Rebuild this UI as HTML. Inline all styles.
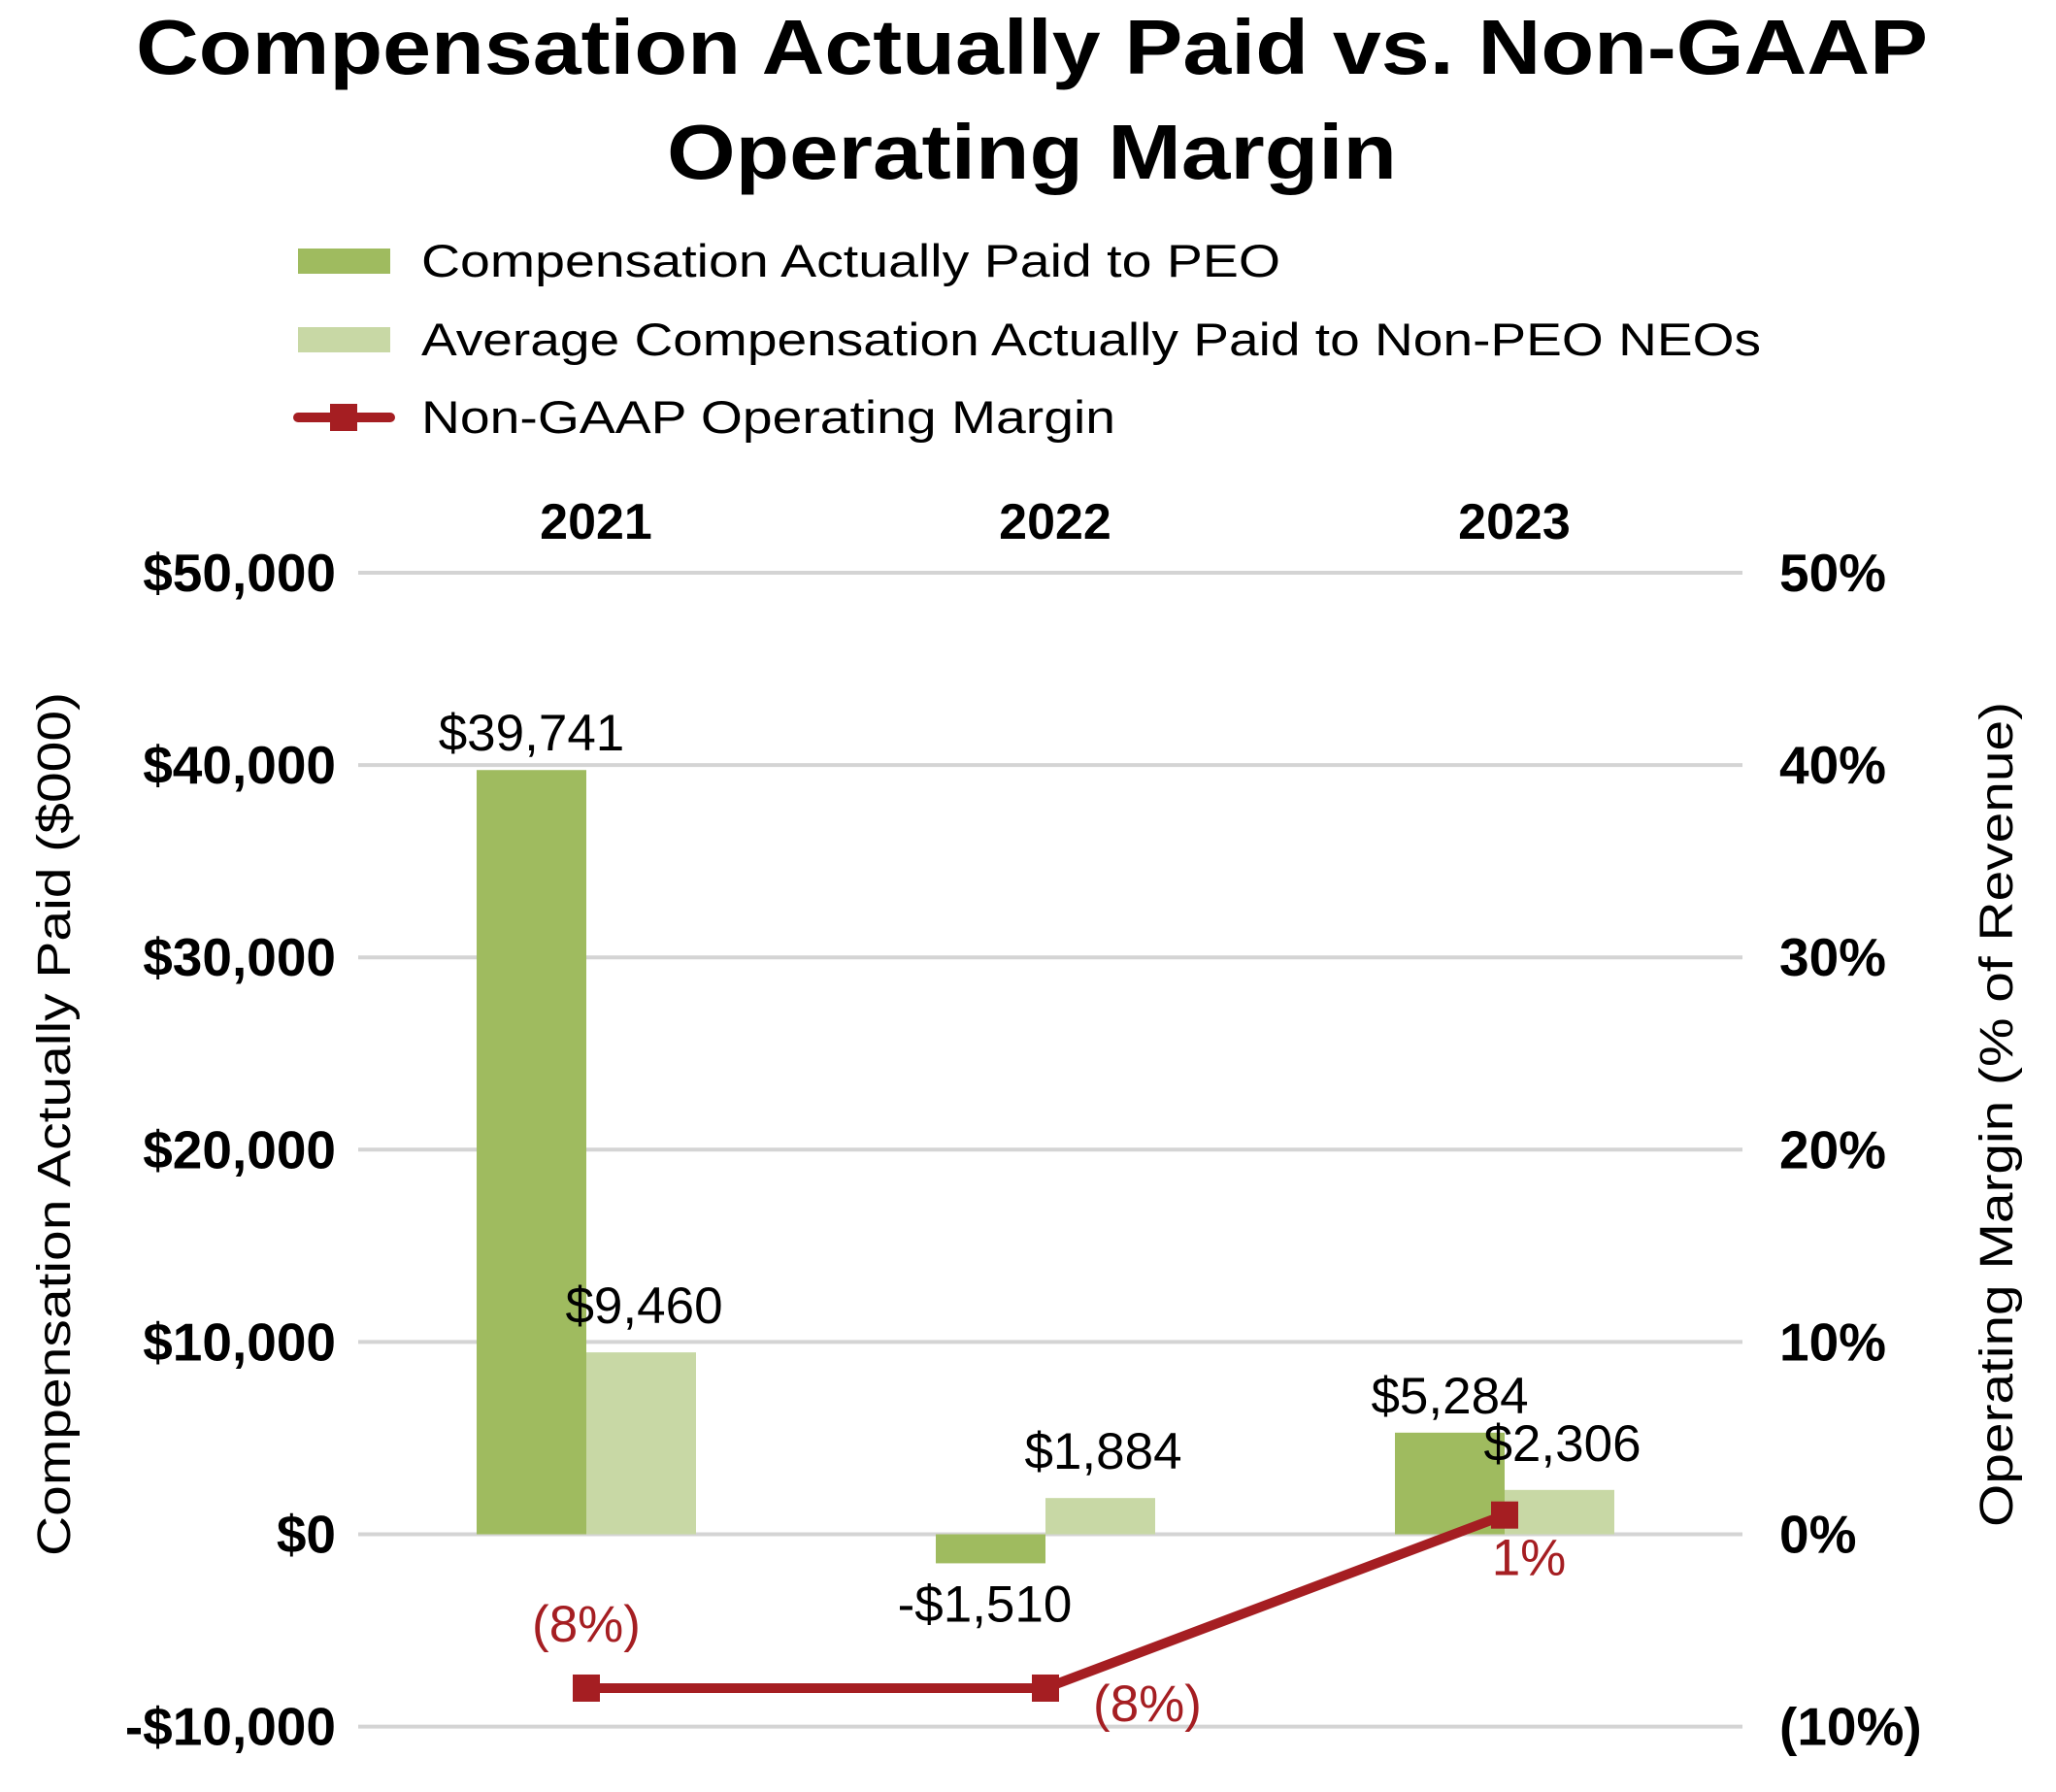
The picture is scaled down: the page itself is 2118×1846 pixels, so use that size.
<!DOCTYPE html>
<html><head><meta charset="utf-8"><style>
html,body{margin:0;padding:0;background:#fff}
svg{display:block;font-family:"Liberation Sans",Arial,sans-serif}
</style></head><body>
<svg id="chart" width="2118" height="1846" viewBox="0 0 2118 1846" xmlns="http://www.w3.org/2000/svg">
<g font-weight="bold" font-size="80" text-anchor="middle" fill="#000">
<text x="1063" y="76" textLength="1846" lengthAdjust="spacingAndGlyphs">Compensation Actually Paid vs. Non-GAAP</text>
<text x="1063" y="184" textLength="752" lengthAdjust="spacingAndGlyphs">Operating Margin</text>
</g>
<g font-size="47" fill="#000">
<rect x="307" y="256" width="95" height="26" fill="#9fbb5f"/>
<text x="434" y="285" textLength="885" lengthAdjust="spacingAndGlyphs">Compensation Actually Paid to PEO</text>
<rect x="307" y="337" width="95" height="26" fill="#c8d8a5"/>
<text x="434" y="366" textLength="1380" lengthAdjust="spacingAndGlyphs">Average Compensation Actually Paid to Non-PEO NEOs</text>
<line x1="307" y1="430" x2="402" y2="430" stroke="#a51e22" stroke-width="10" stroke-linecap="round"/>
<rect x="340" y="416" width="28" height="28" fill="#a51e22"/>
<text x="434" y="446" textLength="715" lengthAdjust="spacingAndGlyphs">Non-GAAP Operating Margin</text>
</g>
<g id="grid"></g>
<g id="bars"></g>
<g id="line"></g>
<g id="labels"></g>
<text transform="translate(72,1158) rotate(-90)" text-anchor="middle" font-size="48" fill="#000" textLength="890" lengthAdjust="spacingAndGlyphs">Compensation Actually Paid ($000)</text>
<text transform="translate(2073,1148) rotate(-90)" text-anchor="middle" font-size="48" fill="#000" textLength="850" lengthAdjust="spacingAndGlyphs">Operating Margin (% of Revenue)</text>
</svg>
<script>
const categories = ["2021", "2022", "2023"];
const peoValues = [39741, -1510, 5284];
const neoValues = [9460, 1884, 2306];
const marginValues = [-8, -8, 1];
const peoLabels = ["$39,741", "-$1,510", "$5,284"];
const neoLabels = ["$9,460", "$1,884", "$2,306"];
const marginLabels = ["(8%)", "(8%)", "1%"];
const leftTicks = [-10000, 0, 10000, 20000, 30000, 40000, 50000];
const leftTickLabels = ["-$10,000", "$0", "$10,000", "$20,000", "$30,000", "$40,000", "$50,000"];
const rightTickLabels = ["(10%)", "0%", "10%", "20%", "30%", "40%", "50%"];

const NS = "http://www.w3.org/2000/svg";
const plotL = 369, plotR = 1795, y0 = 1580.5, yTop = 590;
function yL(v){ return y0 - (v/50000)*(y0-yTop); }
function yR(p){ return y0 - (p/50)*(y0-yTop); }
function xC(i){ return 604 + i*473; }
const barW = 113;
function mk(tag, attrs, parent){ const e=document.createElementNS(NS,tag); for(const k in attrs) e.setAttribute(k,attrs[k]); parent.appendChild(e); return e; }
const grid=document.getElementById('grid'), bars=document.getElementById('bars'), line=document.getElementById('line'), labels=document.getElementById('labels');

leftTicks.forEach((t,i)=>{
  const y=yL(t);
  const g=mk('line',{x1:plotL,x2:plotR,y1:y,y2:y,stroke:'#d4d4d4','stroke-width':4},grid);
  
  
  const tl=mk('text',{x:346,y:y+19,'text-anchor':'end','font-size':55,'font-weight':'bold',fill:'#000'},grid);
  tl.textContent=leftTickLabels[i];
  
  
  const tr=mk('text',{x:1833,y:y+19,'font-size':55,'font-weight':'bold',fill:'#000'},grid);
  tr.textContent=rightTickLabels[i];
  
  
});
categories.forEach((c,i)=>{
  const t=mk('text',{x:xC(i)+10,y:555,'text-anchor':'middle','font-size':52,'font-weight':'bold',fill:'#000'},labels);
  t.textContent=c;
  
  
  const yp=yL(peoValues[i]);
  const b1=mk('rect',{x:xC(i)-barW,y:Math.min(yp,y0),width:barW,height:Math.abs(y0-yp),fill:'#9fbb5f'},bars);
  
  
  const yn=yL(neoValues[i]);
  const b2=mk('rect',{x:xC(i),y:Math.min(yn,y0),width:barW,height:Math.abs(y0-yn),fill:'#c8d8a5'},bars);
  
  
  const lp=mk('text',{x:xC(i)-barW/2,'text-anchor':'middle','font-size':53,fill:'#000'},labels);
  lp.setAttribute('y', peoValues[i]>=0 ? yp-20 : yp+60);
  if(peoValues[i]<0) lp.setAttribute('x', xC(i)-barW/2-6);
  lp.textContent=peoLabels[i];
  
  
  const ln=mk('text',{x:xC(i)+barW/2+3,y:yn-30,'text-anchor':'middle','font-size':53,fill:'#000'},labels);
  ln.textContent=neoLabels[i];
  
  
});
const pts=marginValues.map((m,i)=>xC(i)+','+yR(m)).join(' ');
const pl=mk('polyline',{points:pts,fill:'none',stroke:'#a51e22','stroke-width':10},line);


marginValues.forEach((m,i)=>{
  const y=yR(m);
  const r=mk('rect',{x:xC(i)-14,y:y-14,width:28,height:28,fill:'#a51e22'},line);
  
  
  const t=mk('text',{'text-anchor':'middle','font-size':53,fill:'#a51e22'},labels);
  if(i===0){ t.setAttribute('x',xC(i)); t.setAttribute('y',y-48); }
  else if(m<0){ t.setAttribute('x',xC(i)+105); t.setAttribute('y',y+34); }
  else { t.setAttribute('x',xC(i)+25); t.setAttribute('y',y+62); }
  t.textContent=marginLabels[i];
  
  
});
</script>
</body></html>
